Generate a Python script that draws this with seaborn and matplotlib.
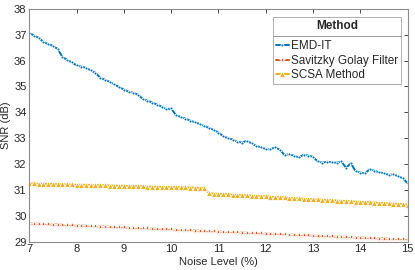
import numpy as np
import pandas as pd
import matplotlib
matplotlib.use("Agg")
import matplotlib.pyplot as plt
from matplotlib.lines import Line2D
import seaborn as sns

noise = [round(7 + 0.1 * i, 1) for i in range(81)]

emd_it = [37.07, 36.97, 36.88, 36.72, 36.64, 36.57, 36.45, 36.15, 36.03, 35.93,
          35.82, 35.77, 35.72, 35.62, 35.53, 35.34, 35.26, 35.18, 35.08, 34.98,
          34.88, 34.80, 34.76, 34.68, 34.52, 34.45, 34.38, 34.30, 34.22, 34.12,
          34.15, 33.90, 33.82, 33.76, 33.68, 33.62, 33.55, 33.47, 33.40, 33.32,
          33.22, 33.08, 33.00, 32.95, 32.86, 32.83, 32.90, 32.80, 32.70, 32.65,
          32.58, 32.57, 32.65, 32.55, 32.35, 32.38, 32.32, 32.26, 32.36, 32.33,
          32.28, 32.10, 32.05, 32.09, 32.07, 32.05, 32.10, 31.86, 32.03, 31.73,
          31.67, 31.64, 31.80, 31.74, 31.68, 31.65, 31.58, 31.60, 31.53, 31.45,
          31.26]

savgol = [29.70, 29.69, 29.69, 29.68, 29.67, 29.66, 29.66, 29.65, 29.64, 29.63,
          29.62, 29.62, 29.61, 29.60, 29.59, 29.58, 29.58, 29.57, 29.56, 29.55,
          29.55, 29.54, 29.53, 29.52, 29.51, 29.51, 29.50, 29.49, 29.48, 29.48,
          29.47, 29.46, 29.45, 29.44, 29.44, 29.43, 29.42, 29.41, 29.40, 29.40,
          29.39, 29.38, 29.37, 29.37, 29.36, 29.35, 29.34, 29.33, 29.33, 29.32,
          29.31, 29.30, 29.30, 29.29, 29.28, 29.27, 29.26, 29.26, 29.25, 29.24,
          29.23, 29.22, 29.22, 29.21, 29.20, 29.19, 29.19, 29.18, 29.17, 29.16,
          29.15, 29.15, 29.14, 29.13, 29.12, 29.12, 29.11, 29.10, 29.10, 29.09,
          29.09]

scsa = [31.25, 31.25, 31.24, 31.24, 31.23, 31.23, 31.22, 31.22, 31.21, 31.21,
        31.20, 31.20, 31.20, 31.19, 31.19, 31.18, 31.18, 31.17, 31.17, 31.16,
        31.16, 31.15, 31.15, 31.14, 31.14, 31.13, 31.13, 31.12, 31.12, 31.11,
        31.11, 31.11, 31.10, 31.10, 31.09, 31.09, 31.08, 31.08, 30.87, 30.86,
        30.85, 30.84, 30.83, 30.82, 30.81, 30.80, 30.79, 30.78, 30.77, 30.76,
        30.75, 30.74, 30.73, 30.72, 30.71, 30.70, 30.68, 30.67, 30.66, 30.65,
        30.64, 30.63, 30.62, 30.61, 30.60, 30.59, 30.58, 30.57, 30.56, 30.55,
        30.54, 30.53, 30.52, 30.51, 30.50, 30.49, 30.48, 30.47, 30.46, 30.45,
        30.43]

methods = ["EMD-IT", "Savitzky Golay Filter", "SCSA Method"]
series = [emd_it, savgol, scsa]
x_ticks = [7, 8, 9, 10, 11, 12, 13, 14, 15]
y_ticks = [29, 30, 31, 32, 33, 34, 35, 36, 37, 38]

rows = []
for m, vals in zip(methods, series):
    for xv, yv in zip(noise, vals):
        rows.append({"Noise": xv, "SNR": yv, "Method": m})
df = pd.DataFrame(rows)

sns.set_style("white")
plt.rcParams["font.family"] = ["Liberation Sans", "DejaVu Sans"]

fig = plt.figure(figsize=(4.15, 2.7), dpi=100)
ax = fig.add_axes([0.0706, 0.105, 0.9114, 0.862])

palette = {"EMD-IT": "#0072BD", "Savitzky Golay Filter": "#D95319", "SCSA Method": "#EDB120"}
markers = {"EMD-IT": ".", "Savitzky Golay Filter": "*", "SCSA Method": "^"}
sns.lineplot(data=df, x="Noise", y="SNR", hue="Method", style="Method",
             palette=palette, markers=markers, dashes=False, linewidth=1.4,
             markersize=4.2, markeredgewidth=0.6, ax=ax, legend=True)

ax.set_xlim(7, 15)
ax.set_ylim(29, 38)
ax.set_xticks(x_ticks)
ax.set_yticks(y_ticks)
ax.set_xlabel("Noise Level (%)", fontsize=8, color="#262626", labelpad=2)
ax.set_ylabel("SNR (dB)", fontsize=8, color="#262626", labelpad=2)
ax.tick_params(axis="both", direction="in", length=3, width=0.6, labelsize=8,
               colors="#262626", top=True, right=True, pad=2)
for s in ax.spines.values():
    s.set_color("#8c8c8c")
    s.set_linewidth(0.8)

leg = ax.legend(title="Method", loc="upper right", bbox_to_anchor=(0.982, 0.965),
                fontsize=8.5, title_fontproperties={"weight": "bold", "size": 8.5},
                frameon=True, fancybox=False, handlelength=1.1, handletextpad=0.15,
                borderpad=0.25, labelspacing=0.2, borderaxespad=0)
leg.get_frame().set_edgecolor("#8c8c8c")
leg.get_frame().set_linewidth(0.6)
leg._legend_box.sep = 6

# separator line under the legend title (MATLAB style)
fig.canvas.draw()
fb = leg.get_frame().get_window_extent()
tb = leg.get_title().get_window_extent()
first = leg.get_texts()[0].get_window_extent()
ysep = 0.5 * (tb.y0 + first.y1) + 0.5
inv = fig.transFigure.inverted()
(x0, y0) = inv.transform((fb.x0, ysep))
(x1, _) = inv.transform((fb.x1, ysep))
fig.add_artist(Line2D([x0, x1], [y0, y0], color="#8c8c8c", linewidth=0.6))

fig.savefig("out.png", dpi=100, facecolor="white")
